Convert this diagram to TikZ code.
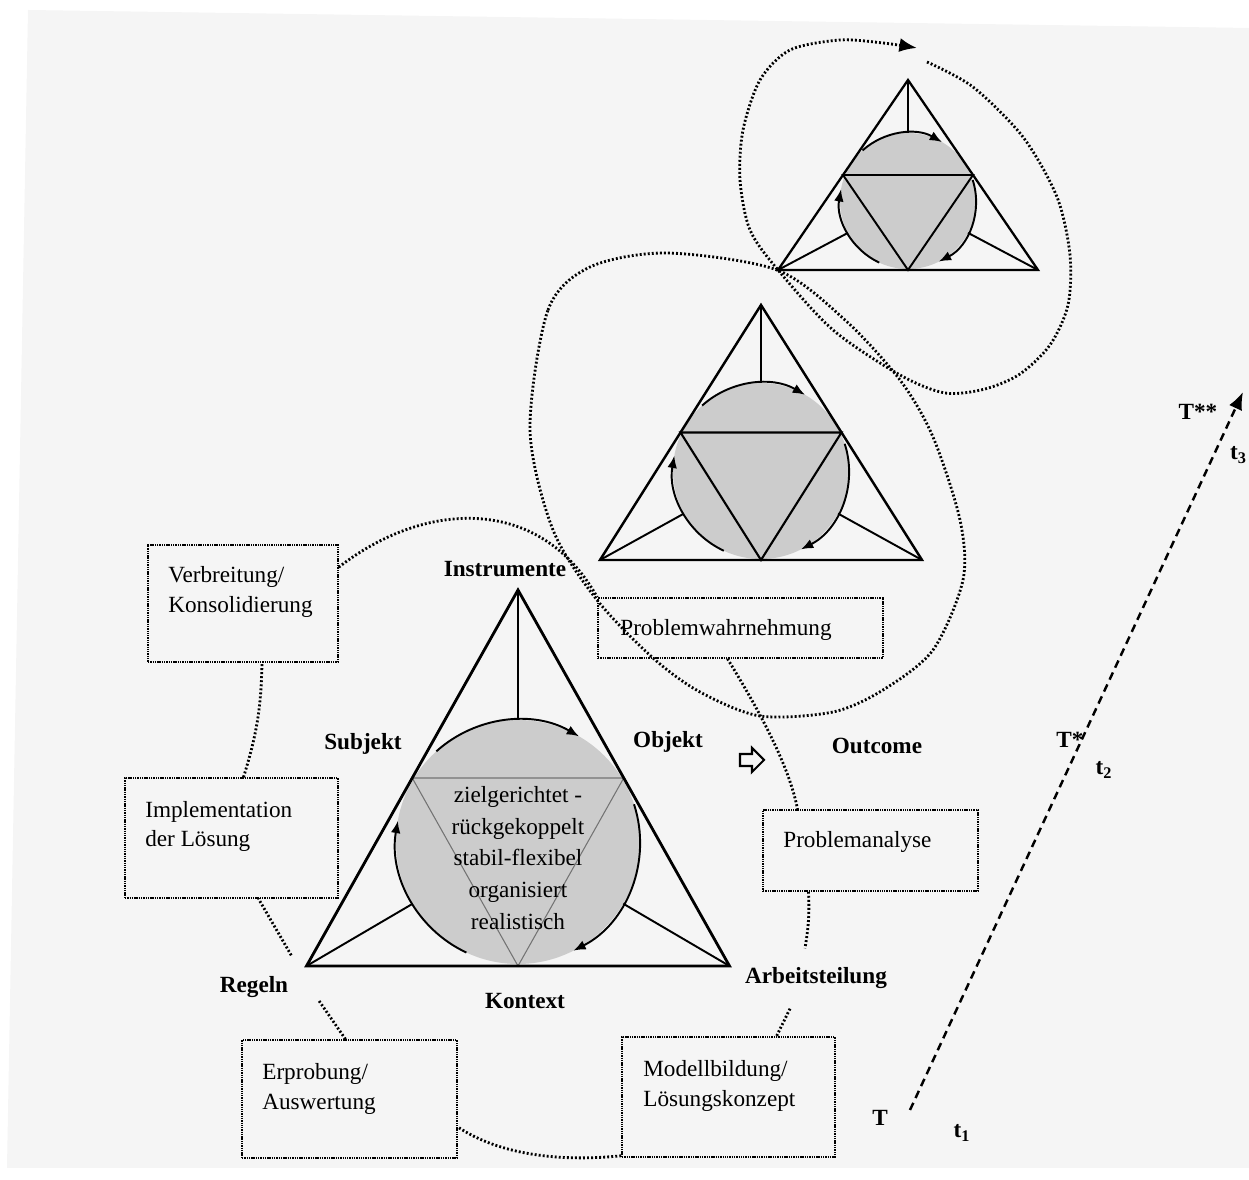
\documentclass[tikz,border=0pt]{standalone}
\usepackage{fontspec}
\setmainfont{Liberation Serif}
\usetikzlibrary{arrows.meta,calc}

\definecolor{paper}{RGB}{245,245,245}
\definecolor{disc}{RGB}{204,204,204}

\tikzset{
  cyc/.style={line width=1.6pt, dash pattern=on 1.1pt off 1.2pt},
  procbox/.style={draw, line width=0.9pt, dash pattern=on 0.8pt off 0.5pt, inner sep=0pt},
  boxtext/.style={font=\fontsize{13.2}{17}\selectfont, align=left, inner sep=0pt, anchor=west},
  lbl/.style={font=\fontsize{13.2}{16}\selectfont\bfseries, inner sep=1pt},
  spoke/.style={line width=1.1pt},
  flow/.style={line width=1.1pt, -{Latex[length=7pt,width=5.5pt]}},
}

% activity system: #1 name, #2 centre x, #3 apex y, #4 base y, #5 half base,
% #6 disc centre y, #7 disc radius, #8 outer line width, #9 inner triangle style
\newcommand\actsys[9]{%
  \coordinate (#1-A) at (#2,#3);
  \coordinate (#1-L) at ({#2-#5},#4);
  \coordinate (#1-R) at ({#2+#5},#4);
  \coordinate (#1-C) at (#2,#6);
  \fill[disc] (#1-C) circle[radius=#7];
  \draw[#9] ($(#1-A)!0.5!(#1-L)$) -- ($(#1-A)!0.5!(#1-R)$) -- ($(#1-L)!0.5!(#1-R)$) -- cycle;
  \draw[line width=#8, line join=miter] (#1-L) -- (#1-A) -- (#1-R) -- cycle;
  \draw[line width=0.9pt] (#1-A) -- ($(#1-C)+(90:#7)$);
  \draw[spoke] let \p1=($(#1-L)-(#1-C)$), \n1={atan2(\y1,\x1)} in (#1-L) -- ($(#1-C)+(\n1:#7)$);
  \draw[spoke] let \p1=($(#1-R)-(#1-C)$), \n1={atan2(\y1,\x1)} in (#1-R) -- ($(#1-C)+(\n1:#7)$);
  \draw[flow] ($(#1-C)+(132:#7)$) arc[start angle=132, end angle=60, radius=#7];
  \draw[flow] ($(#1-C)+(18:#7)$) arc[start angle=18, end angle=-63, radius=#7];
  \draw[flow] ($(#1-C)+(245:#7)$) arc[start angle=245, end angle=170, radius=#7];
}

\begin{document}
\begin{tikzpicture}[x=0.02cm,y=0.02cm]
\useasboundingbox (0,0) rectangle (1249,1180);
% scanned page
\fill[paper] (28,1170) -- (1249,1152) -- (1249,12) -- (7,12) -- cycle;

% the three activity systems
\actsys{m}{518}{590}{214}{211.5}{338}{122}{1.6pt}{line width=0.6pt, black!55}
\actsys{s}{761}{875}{620}{161}{709}{88}{1.4pt}{line width=1.2pt}
\actsys{u}{908}{1100}{910}{130}{979}{68}{1.3pt}{line width=1.1pt}

% text in the main disc
\node[font=\fontsize{13.2}{18.1}\selectfont, align=center, inner sep=0pt] (goal) at (518,322)
  {zielgerichtet -\\rückgekoppelt\\stabil-flexibel\\organisiert\\realistisch};

% corner labels
\node[lbl] (instr) at (505,611) {Instrumente};
\node[lbl] (subj) at (363,436) {Subjekt};
\node[lbl] (obj) at (668,438) {Objekt};
\node[lbl] (outc) at (877,434) {Outcome};
\node[lbl] (regeln) at (254,193) {Regeln};
\node[lbl] (kontext) at (525,179) {Kontext};
\node[lbl] (arbeit) at (816,202) {Arbeitsteilung};

% hollow arrow object -> outcome
\draw[line width=1.2pt, line join=miter] (740,426) -- (752,426) -- (752,432) -- (764,420)
  -- (752,408) -- (752,414) -- (740,414) -- cycle;

% phase boxes
\node[procbox, minimum width=3.8cm, minimum height=2.34cm] (verb) at (243,576.5) {};
\node[procbox, minimum width=4.26cm, minimum height=2.4cm] (impl) at (231.5,342) {};
\node[procbox, minimum width=4.3cm, minimum height=2.36cm] (erprob) at (349.5,81) {};
\node[procbox, minimum width=4.26cm, minimum height=2.4cm] (modell) at (728.5,83) {};
\node[procbox, minimum width=4.3cm, minimum height=1.62cm] (analyse) at (870.5,329.5) {};
\node[procbox, minimum width=5.7cm, minimum height=1.2cm] (wahrn) at (740.5,552) {};

\node[boxtext] (verb-t) at (168,588) {Verbreitung/\\Konsolidierung};
\node[boxtext] (impl-t) at (145,353.5) {Implementation\\der Lösung};
\node[boxtext] (erprob-t) at (262,91) {Erprobung/\\Auswertung};
\node[boxtext] (modell-t) at (643,94) {Modellbildung/\\Lösungskonzept};
\node[boxtext] (analyse-t) at (783,338) {Problemanalyse};
\node[boxtext] (wahrn-t) at (620,550) {Problemwahrnehmung};

% the learning cycle
\draw[cyc] ($(wahrn.south)+(-13,0)$) .. controls (765,460) and (790,410) .. ($(analyse.north)+(-73,0)$);
\draw[cyc] ($(analyse.south)+(-62,0)$) to[bend left=6] ($(arbeit.north)+(-11,17)$);
\draw[cyc] ($(arbeit.south)+(-26,-18)$) -- ($(modell.north)+(48,0)$);
\draw[cyc] ($(modell.south west)+(0,2)$) .. controls (560,18) and (500,25) .. ($(erprob.east)+(0,-28)$);
\draw[cyc] ($(erprob.north)+(-4,0)$) -- ($(regeln.south east)+(28,0)$);
\draw[cyc] ($(regeln.north east)+(1,19)$) -- ($(impl.south)+(27,0)$);
\draw[cyc] ($(impl.north)+(12,0)$) to[bend right=8] ($(verb.south)+(19,0)$);
\draw[cyc] ($(verb.north east)+(0,-23)$) .. controls (425,680) and (540,685) .. (wahrn.north west);

% enclosure of the second system
\draw[cyc] plot[smooth cycle] coordinates {(530,750) (548,870) (590,913) (667,927) (777,910)
  (845,860) (900,800) (933,743) (960,660) (963,600) (933,530) (883,490) (833,468) (760,464)
  (700,488) (653,522) (597,580) (553,650)};

% enclosure of the third system, with its arrow
\draw[cyc, -{Latex[length=10pt,width=8pt]}] plot[smooth] coordinates {(927,1118) (973,1093)
  (1023,1043) (1057,983) (1070,925) (1068,875) (1050,835) (1020,806) (985,791) (945,787)
  (900,805) (833,850) (778,910) (750,950) (740,1000) (743,1050) (760,1100) (790,1130)
  (840,1140) (883,1137) (917,1132)};

% time axis
\coordinate (tstart) at (910,70);
\coordinate (tend) at (1243,788);
\draw[line width=1.4pt, dash pattern=on 4.5pt off 3pt, -{Latex[length=10pt,width=8pt]}] (tstart) -- (tend);
\node[lbl] (T0) at (880,62) {T};
\node[lbl] (t1) at (962,47) {t\textsubscript{1}};
\node[lbl] (T1) at (1070,440) {T*};
\node[lbl] (t2) at (1104,410) {t\textsubscript{2}};
\node[lbl] (T2) at (1198,768) {T**};
\node[lbl, anchor=east] (t3) at (1249,725) {t\textsubscript{3}};
\end{tikzpicture}
\end{document}
